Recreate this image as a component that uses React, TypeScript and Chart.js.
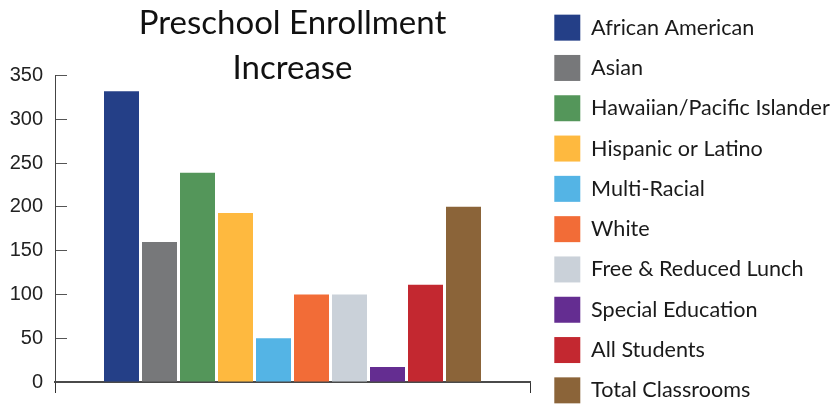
import React, { useEffect, useRef } from "react";
import { Chart, registerables } from "chart.js";

Chart.register(...registerables);

const chartTitle = ["Preschool Enrollment", "Increase"];
const categories = [""];
const seriesNames = [
  "African American",
  "Asian",
  "Hawaiian/Pacific Islander",
  "Hispanic or Latino",
  "Multi-Racial",
  "White",
  "Free & Reduced Lunch",
  "Special Education",
  "All Students",
  "Total Classrooms",
];
const seriesValues = [332, 160, 239, 193, 50, 100, 100, 17, 111, 200];
const seriesColors = [
  "#243F87",
  "#77787A",
  "#54965A",
  "#FEB93F",
  "#54B4E5",
  "#F26C37",
  "#CAD1D9",
  "#642D91",
  "#C32830",
  "#8B6439",
];
const yMin = 0;
const yMax = 350;
const yStep = 50;

const LEGEND_WIDTH = 294;

const legendWidthPlugin = {
  id: "legendWidth",
  beforeLayout(chart: any) {
    const legend = chart.legend;
    if (legend && !legend.__patched) {
      const proto = Object.getPrototypeOf(legend);
      legend.fit = function () {
        proto.fit.call(this);
        this.width = LEGEND_WIDTH;
      };
      legend.__patched = true;
    }
  },
};

export default function App() {
  const canvasRef = useRef<HTMLCanvasElement | null>(null);

  useEffect(() => {
    const canvas = canvasRef.current;
    if (!canvas) return;
    const chart = new Chart(canvas, {
      type: "bar",
      data: {
        labels: categories,
        datasets: seriesNames.map((name, i) => ({
          label: name,
          data: [seriesValues[i]],
          backgroundColor: seriesColors[i],
          borderWidth: 0,
          categoryPercentage: 0.8,
          barPercentage: 35 / 38,
        })),
      },
      plugins: [legendWidthPlugin],
      options: {
        animation: false,
        responsive: false,
        devicePixelRatio: 1,
        layout: { padding: 0 },
        plugins: {
          tooltip: { enabled: false },
          title: {
            display: true,
            text: chartTitle,
            fullSize: false,
            color: "#111111",
            font: { family: "Lato", size: 33, weight: "normal", lineHeight: 45 / 33 },
            padding: { top: 1, bottom: -15.5 },
          },
          legend: {
            display: true,
            position: "right",
            align: "center",
            labels: {
              boxWidth: 26,
              boxHeight: 26,
              padding: 14.3,
              color: "#1a1a1a",
              font: { family: "Lato", size: 21.6 },
            },
          },
        },
        scales: {
          x: {
            type: "category",
            grid: {
              display: true,
              drawOnChartArea: false,
              drawTicks: true,
              tickLength: 11,
              offset: true,
              color: "#333333",
            },
            border: { display: true, color: "#4a4a4a", width: 2 },
            ticks: { display: false },
            afterFit: (s: any) => {
              s.height = 13.5;
            },
          },
          y: {
            type: "linear",
            position: "left",
            min: yMin,
            max: yMax,
            grid: {
              display: true,
              drawOnChartArea: false,
              drawTicks: true,
              tickLength: -12,
              color: "#555555",
            },
            border: { display: true, color: "#444444", width: 1 },
            ticks: {
              stepSize: yStep,
              padding: 24,
              color: "#222222",
              font: { family: "Liberation Sans", size: 20 },
            },
            afterFit: (s: any) => {
              s.width = 55;
            },
          },
          y2: {
            type: "linear",
            position: "right",
            display: true,
            grid: { display: false },
            border: { display: false },
            ticks: { display: false },
            afterFit: (s: any) => {
              s.width = 10;
            },
          },
        },
      },
    });
    return () => chart.destroy();
  }, []);

  return (
    <div style={{ position: "absolute", left: 0, top: 0, width: 834, height: 418 }}>
      <canvas ref={canvasRef} width={834} height={418} />
    </div>
  );
}
